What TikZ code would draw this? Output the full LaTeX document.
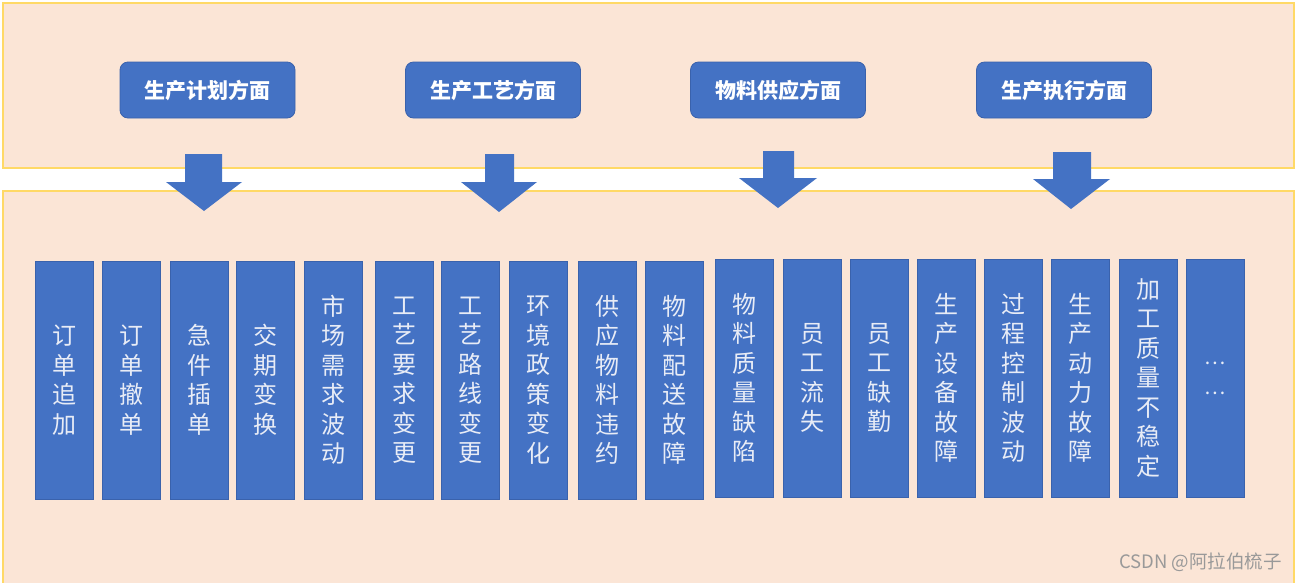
\documentclass[tikz,border=0pt]{standalone}
\usepackage{fontspec}
\setmainfont{Noto Sans CJK SC}
\begin{document}
\begin{tikzpicture}[x=1pt,y=-1pt,
  panel/.style={fill=peach,draw=gold,line width=1.5pt},
  header/.style={fill=boxblue,draw=boxedge,line width=0.8pt,rounded corners=8pt,
    minimum width=175pt,minimum height=56pt,inner sep=0pt,text=white,
    font=\fontsize{21}{24}\selectfont\bfseries},
  col/.style={fill=boxblue,draw=boxedge,line width=0.8pt,
    minimum width=58pt,minimum height=238pt,inner sep=0pt,align=center,text=coltext,
    font=\fontsize{24}{29.5}\selectfont},
  blockarrow/.style={fill=boxblue,draw=none}
]
\definecolor{peach}{HTML}{FBE5D6}
\definecolor{gold}{HTML}{FFD966}
\definecolor{boxblue}{HTML}{4472C4}
\definecolor{boxedge}{HTML}{3A62AC}
\definecolor{coltext}{HTML}{E8ECF6}
\useasboundingbox (0,0) rectangle (1296,582);
\clip (0,0) rectangle (1296,582);
\fill[white] (0,0) rectangle (1296,582);
% panels
\draw[panel] (3,3) rectangle (1294,168);
\draw[panel] (3,191) rectangle (1294,600);
% headers
\node[header] (h1) at (207.5,90) {生产计划方面};
\node[header] (h2) at (493,90) {生产工艺方面};
\node[header] (h3) at (778,90) {物料供应方面};
\node[header] (h4) at (1064,90) {生产执行方面};
% block arrows
\fill[blockarrow] (185,154) -- (222,154) -- (222,182) -- (242,182) -- (204,211) -- (166,182) -- (185,182) -- cycle;
\fill[blockarrow] (485,154) -- (514,154) -- (514,182) -- (537,182) -- (499,212) -- (461,182) -- (485,182) -- cycle;
\fill[blockarrow] (763,151) -- (794,151) -- (794,178) -- (817,178) -- (778,208) -- (739,178) -- (763,178) -- cycle;
\fill[blockarrow] (1053,152) -- (1091,152) -- (1091,179) -- (1110,179) -- (1071,209) -- (1033,179) -- (1053,179) -- cycle;
% columns
\node[col] (c1) at (64,380) {订\\单\\追\\加};
\node[col] (c2) at (131,380) {订\\单\\撤\\单};
\node[col] (c3) at (199,380) {急\\件\\插\\单};
\node[col] (c4) at (265.5,380) {交\\期\\变\\换};
\node[col] (c5) at (333,380) {市\\场\\需\\求\\波\\动};
\node[col] (c6) at (404,380) {工\\艺\\要\\求\\变\\更};
\node[col] (c7) at (470.5,380) {工\\艺\\路\\线\\变\\更};
\node[col] (c8) at (538,380) {环\\境\\政\\策\\变\\化};
\node[col] (c9) at (607,380) {供\\应\\物\\料\\违\\约};
\node[col] (c10) at (674,380) {物\\料\\配\\送\\故\\障};
\node[col] (c11) at (744.5,378) {物\\料\\质\\量\\缺\\陷};
\node[col] (c12) at (812,378) {员\\工\\流\\失};
\node[col] (c13) at (879,378) {员\\工\\缺\\勤};
\node[col] (c14) at (946,378) {生\\产\\设\\备\\故\\障};
\node[col] (c15) at (1013.5,378) {过\\程\\控\\制\\波\\动};
\node[col] (c16) at (1080.5,378) {生\\产\\动\\力\\故\\障};
\node[col] (c17) at (1148,378) {加\\工\\质\\量\\不\\稳\\定};
\node[col,font=\fontsize{20}{30}\selectfont] (c18) at (1215,378) {…\\…};
% watermark
\node[text=gray!80,font=\fontsize{18.5}{21}\selectfont,anchor=east,inner sep=0pt] (wm) at (1282,562) {CSDN @阿拉伯梳子};
\end{tikzpicture}
\end{document}
